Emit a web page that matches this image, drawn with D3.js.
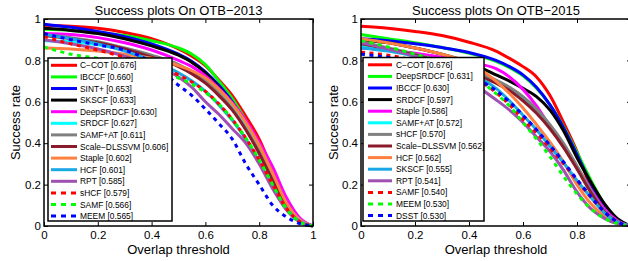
<!DOCTYPE html>
<html>
<head>
<meta charset="utf-8">
<script src="https://cdn.jsdelivr.net/npm/d3@7"></script>
<style>
  body { margin: 0; background: #fff; }
  text { font-family: "Liberation Sans", Arial, Helvetica, sans-serif; fill: #000; }
</style>
</head>
<body>
<div id="chart"></div>
<script>
var thresholds = [0, 0.1, 0.2, 0.3, 0.4, 0.5, 0.55, 0.6, 0.65, 0.7, 0.75, 0.8, 0.85, 0.9, 0.95, 1];
var axisTicks = [0, 0.2, 0.4, 0.6, 0.8, 1];

// OTB-2013
var names2013 = ["C\u2212COT", "IBCCF", "SINT+", "SKSCF", "DeepSRDCF", "SRDCF", "SAMF+AT",
  "Scale\u2212DLSSVM", "Staple", "HCF", "RPT", "sHCF", "SAMF", "MEEM"];
var scores2013 = ["0.676", "0.660", "0.653", "0.633", "0.630", "0.627", "0.611",
  "0.606", "0.602", "0.601", "0.585", "0.579", "0.566", "0.565"];
var values2013 = [
  [.970, .965, .955, .935, .905, .855, .820, .775, .705, .630, .530, .420, .270, .125, .035, 0],
  [.950, .945, .935, .920, .895, .860, .830, .780, .700, .615, .510, .390, .250, .110, .030, 0],
  [.975, .960, .940, .915, .880, .830, .795, .745, .680, .600, .495, .370, .235, .105, .028, 0],
  [.955, .945, .930, .905, .870, .825, .790, .740, .670, .590, .485, .360, .225, .100, .025, 0],
  [.930, .925, .910, .885, .850, .800, .770, .725, .665, .595, .510, .405, .285, .140, .040, 0],
  [.895, .890, .875, .850, .815, .775, .745, .705, .650, .580, .490, .380, .245, .110, .030, 0],
  [.925, .910, .890, .860, .825, .780, .745, .700, .640, .565, .470, .360, .225, .100, .025, 0],
  [.920, .905, .885, .855, .815, .770, .735, .690, .630, .560, .465, .350, .220, .095, .025, 0],
  [.860, .855, .845, .830, .810, .775, .750, .715, .660, .590, .500, .390, .255, .115, .030, 0],
  [.925, .905, .880, .845, .800, .740, .700, .650, .585, .510, .420, .310, .190, .085, .022, 0],
  [.900, .880, .855, .820, .780, .720, .670, .600, .540, .470, .400, .300, .180, .080, .020, 0],
  [.915, .880, .850, .815, .775, .730, .695, .650, .590, .515, .425, .320, .200, .088, .022, 0],
  [.865, .830, .810, .785, .755, .715, .685, .645, .590, .515, .425, .320, .200, .085, .020, 0],
  [.930, .900, .875, .850, .790, .680, .630, .565, .495, .420, .300, .200, .100, .045, .012, 0]
];
var colors2013 = ["#ff0000", "#00ff00", "#0000ff", "#000000", "#ff00ff", "#00ffff", "#808080",
  "#8b1a2b", "#ff8040", "#1aa7e6", "#a050b0", "#ff0000", "#00ff00", "#0000ff"];
var dotted2013 = [0, 0, 0, 0, 0, 0, 0, 0, 0, 0, 0, 1, 1, 1];

// OTB-2015
var names2015 = ["C\u2212COT", "DeepSRDCF", "IBCCF", "SRDCF", "Staple", "SAMF+AT", "sHCF",
  "Scale\u2212DLSSVM", "HCF", "SKSCF", "RPT", "SAMF", "MEEM", "DSST"];
var scores2015 = ["0.676", "0.631", "0.630", "0.597", "0.586", "0.572", "0.570",
  "0.562", "0.562", "0.555", "0.541", "0.540", "0.530", "0.530"];
var values2015 = [
  [.965, .955, .940, .920, .888, .845, .810, .770, .720, .630, .500, .360, .190, .078, .022, 0],
  [.925, .905, .885, .862, .835, .795, .765, .725, .665, .585, .480, .355, .225, .108, .030, 0],
  [.905, .895, .880, .862, .838, .800, .770, .730, .670, .585, .475, .345, .210, .095, .028, 0],
  [.900, .885, .860, .830, .790, .730, .700, .665, .625, .560, .460, .330, .215, .110, .035, 0],
  [.860, .850, .835, .815, .790, .760, .720, .660, .580, .480, .390, .285, .180, .085, .025, 0],
  [.870, .850, .825, .790, .750, .700, .665, .620, .560, .485, .395, .285, .170, .072, .020, 0],
  [.890, .860, .830, .795, .755, .705, .670, .625, .565, .490, .400, .290, .175, .075, .020, 0],
  [.880, .855, .825, .790, .745, .690, .655, .605, .545, .470, .380, .275, .165, .070, .018, 0],
  [.905, .885, .860, .830, .790, .700, .640, .570, .490, .405, .310, .200, .110, .050, .014, 0],
  [.860, .845, .820, .785, .740, .665, .605, .535, .465, .385, .305, .220, .140, .065, .018, 0],
  [.885, .855, .820, .770, .700, .610, .560, .500, .430, .360, .270, .165, .085, .038, .010, 0],
  [.840, .825, .800, .770, .725, .645, .585, .515, .450, .375, .300, .220, .140, .070, .020, 0],
  [.895, .865, .830, .790, .735, .640, .580, .500, .420, .335, .240, .155, .085, .038, .012, 0],
  [.830, .815, .795, .765, .725, .655, .600, .535, .465, .390, .310, .225, .145, .070, .020, 0]
];
var colors2015 = ["#ff0000", "#00ff00", "#0000ff", "#000000", "#ff00ff", "#00ffff", "#808080",
  "#8b1a2b", "#ff8040", "#1aa7e6", "#a050b0", "#ff0000", "#00ff00", "#0000ff"];
var dotted2015 = [0, 0, 0, 0, 0, 0, 0, 0, 0, 0, 0, 1, 1, 1];

var svgWidth = 628;
var svgHeight = 261;
var plotTop = 19;
var plotBottom = 226;

var svg = d3.select("#chart")
  .append("svg")
  .attr("width", svgWidth)
  .attr("height", svgHeight);

var panels = [
  { left: 44, right: 313, title: "Success plots On OTB\u22122013", ylabelX: 20,
    names: names2013, scores: scores2013, values: values2013, colors: colors2013, dotted: dotted2013,
    legend: { x: 48, y: 58, w: 124, h: 163, line0: 51, line1: 77, text: 80 } },
  { left: 361, right: 631, title: "Success plots On OTB\u22122015", ylabelX: 338,
    names: names2015, scores: scores2015, values: values2015, colors: colors2015, dotted: dotted2015,
    legend: { x: 363, y: 57.5, w: 121, h: 163.5, line0: 368, line1: 392, text: 396 } }
];

function tickFormat(d) {
  return (d === 0 || d === 1) ? String(d) : d3.format(".1f")(d);
}

panels.forEach(function(p) {
  var x = d3.scaleLinear().domain([0, 1]).range([p.left, p.right]);
  var y = d3.scaleLinear().domain([0, 1]).range([plotBottom, plotTop]);
  var g = svg.append("g");

  // curves, first legend entry drawn first
  var line = d3.line()
    .x(function(d) { return x(d[0]); })
    .y(function(d) { return y(d[1]); })
    .curve(d3.curveMonotoneX);

  p.values.forEach(function(vals, i) {
    var pts = thresholds.map(function(t, k) { return [t, vals[k]]; });
    g.append("path")
      .attr("d", line(pts))
      .attr("fill", "none")
      .attr("stroke", p.colors[i])
      .attr("stroke-width", 3)
      .attr("stroke-dasharray", p.dotted[i] ? "4,4.5" : null);
  });

  // axes with inward ticks on all four sides
  var bottom = g.append("g")
    .attr("transform", "translate(0," + plotBottom + ")")
    .call(d3.axisBottom(x).tickValues(axisTicks).tickSizeInner(-4).tickSizeOuter(0).tickPadding(3).tickFormat(tickFormat));
  bottom.selectAll("text").attr("y", 13).attr("dy", null).style("font-size", "11.5px");

  var leftAx = g.append("g")
    .attr("transform", "translate(" + p.left + ",0)")
    .call(d3.axisLeft(y).tickValues(axisTicks).tickSizeInner(-4).tickSizeOuter(0).tickPadding(3).tickFormat(tickFormat));
  leftAx.selectAll("text").style("font-size", "11.5px");

  g.append("g")
    .attr("transform", "translate(0," + plotTop + ")")
    .call(d3.axisTop(x).tickValues(axisTicks).tickSizeInner(-4).tickSizeOuter(0).tickFormat(""));
  g.append("g")
    .attr("transform", "translate(" + p.right + ",0)")
    .call(d3.axisRight(y).tickValues(axisTicks).tickSizeInner(-4).tickSizeOuter(0).tickFormat(""));

  g.selectAll(".domain").remove();
  g.selectAll(".tick line").attr("stroke", "#000").attr("stroke-width", 1);
  g.selectAll(".tick text").attr("fill", "#000").style("font-family", null);

  g.append("rect")
    .attr("x", p.left)
    .attr("y", plotTop)
    .attr("width", p.right - p.left)
    .attr("height", plotBottom - plotTop)
    .attr("fill", "none")
    .attr("stroke", "#000")
    .attr("stroke-width", 1.5);

  // titles and labels
  g.append("text")
    .attr("x", (p.left + p.right) / 2)
    .attr("y", 14.5)
    .attr("text-anchor", "middle")
    .style("font-size", "13px")
    .text(p.title);

  g.append("text")
    .attr("x", (p.left + p.right) / 2)
    .attr("y", 253.5)
    .attr("text-anchor", "middle")
    .style("font-size", "13px")
    .text("Overlap threshold");

  g.append("text")
    .attr("transform", "translate(" + p.ylabelX + "," + ((plotTop + plotBottom) / 2) + ") rotate(-90)")
    .attr("text-anchor", "middle")
    .style("font-size", "13px")
    .text("Success rate");

  // legend
  var L = p.legend;
  var lg = g.append("g");
  lg.append("rect")
    .attr("x", L.x)
    .attr("y", L.y)
    .attr("width", L.w)
    .attr("height", L.h)
    .attr("fill", "#fff")
    .attr("stroke", "#000")
    .attr("stroke-width", 1.5);

  var rowStep = 11.6;
  p.names.forEach(function(name, i) {
    var cy = L.y + 7.3 + i * rowStep;
    lg.append("line")
      .attr("x1", L.line0)
      .attr("x2", L.line1)
      .attr("y1", cy)
      .attr("y2", cy)
      .attr("stroke", p.colors[i])
      .attr("stroke-width", 3)
      .attr("stroke-dasharray", p.dotted[i] ? "5,5" : null);
    lg.append("text")
      .attr("x", L.text)
      .attr("y", cy + 3)
      .style("font-size", "8.4px")
      .text(name + " [" + p.scores[i] + "]");
  });
});
</script>
</body>
</html>
